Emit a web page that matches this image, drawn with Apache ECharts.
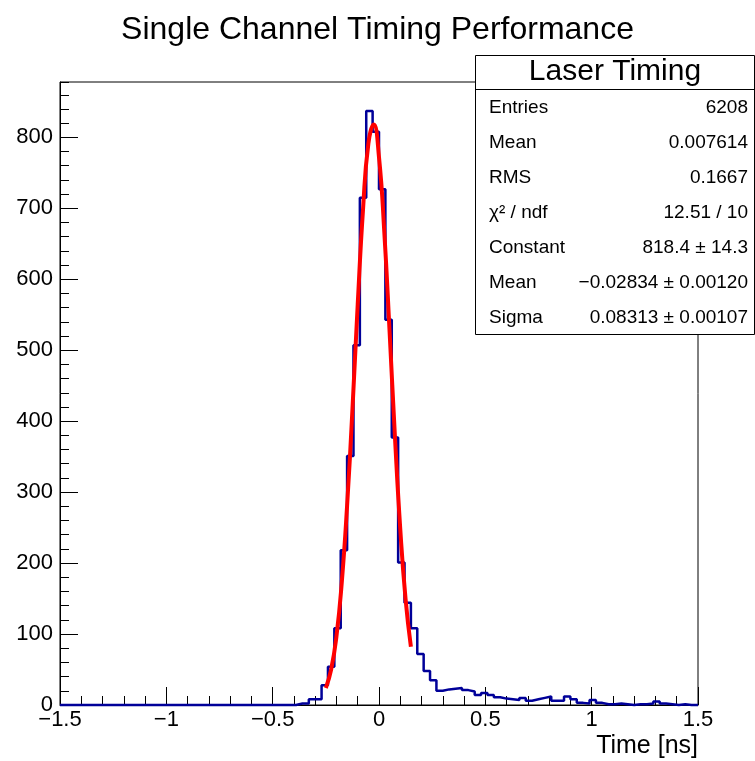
<!DOCTYPE html>
<html>
<head>
<meta charset="utf-8">
<script src="https://cdn.jsdelivr.net/npm/echarts@6/dist/echarts.min.js"></script>
<style>
  html, body { margin: 0; padding: 0; background: #fff; }
  #main { width: 755px; height: 761px; }
</style>
</head>
<body>
<div id="main"></div>
<script>
// histogram: 100 bins from -1.5 to 1.5 ns
var binLow = -1.5;
var binWidth = 0.03;
var counts = [
  0, 0, 0, 0, 0, 0, 0, 0, 0, 0,
  0, 0, 0, 0, 0, 0, 0, 0, 0, 0,
  0, 0, 0, 0, 0, 0, 0, 0, 0, 0,
  0, 0, 0, 0, 0, 0, 0, 2, 2, 8,
  8, 28, 54, 108, 218, 351, 507, 715, 837, 808,
  727, 543, 377, 201, 144, 108, 72, 48, 35, 20,
  22, 23, 24, 21, 19, 14, 17, 14, 11, 9,
  8, 7, 10, 6, 8, 10, 12, 6, 6, 12,
  8, 3, 2, 7, 3, 1, 1, 2, 1, 0,
  1, 1, 2, 5, 2, 1, 0, 1, 0, 0
];

// gaussian fit curve
var fitX = [-0.25, -0.225, -0.2, -0.175, -0.15, -0.125, -0.1, -0.075, -0.05, -0.025,
            0, 0.025, 0.05, 0.075, 0.1, 0.125, 0.15];
var fitY = [24, 50, 97, 173, 281, 416, 565, 699, 791, 818,
            772, 666, 525, 378, 248, 149, 82];

// stats box rows
var statNames = ['Entries', 'Mean', 'RMS', 'χ² / ndf', 'Constant', 'Mean', 'Sigma'];
var statValues = ['6208', '0.007614', '0.1667', '12.51 / 10', '818.4 ± 14.3',
                  '−0.02834 ± 0.00120', '0.08313 ± 0.00107'];

var yMajor = [0, 100, 200, 300, 400, 500, 600, 700, 800];
var yMax = 878;

var FONT = 'Liberation Sans';

var histData = [];
for (var i = 0; i < counts.length; i++) {
  histData.push([binLow + i * binWidth, counts[i]]);
}
histData.push([binLow + counts.length * binWidth, counts[counts.length - 1]]);

var fitData = [];
for (var j = 0; j < fitX.length; j++) {
  fitData.push([fitX[j], fitY[j]]);
}

function fmt(v) {
  var s = String(Math.round(v * 100) / 100);
  return s.charAt(0) === '-' ? '\u2212' + s.slice(1) : s;
}

// stats box graphics
var graphics = [
  { type: 'rect', shape: { x: 475.5, y: 55.5, width: 279, height: 279 },
    style: { fill: '#fff', stroke: '#000', lineWidth: 1 }, z: 10 },
  { type: 'line', shape: { x1: 475.5, y1: 89.5, x2: 754.5, y2: 89.5 },
    style: { stroke: '#000', lineWidth: 1 }, z: 11 },
  { type: 'text', x: 615, y: 72, z: 11,
    style: { text: 'Laser Timing', font: '30px "' + FONT + '"', fill: '#000',
             textAlign: 'center', textVerticalAlign: 'middle' } },
  { type: 'text', x: 698, y: 746, z: 11,
    style: { text: 'Time [ns]', font: '25px "' + FONT + '"', fill: '#000',
             textAlign: 'right', textVerticalAlign: 'middle' } }
];
for (var k = 0; k < statNames.length; k++) {
  var yy = 108 + k * 35;
  graphics.push({ type: 'text', x: 489, y: yy, z: 11,
    style: { text: statNames[k], font: '19px "' + FONT + '"', fill: '#000',
             textAlign: 'left', textVerticalAlign: 'middle' } });
  graphics.push({ type: 'text', x: 748, y: yy, z: 11,
    style: { text: statValues[k], font: '19px "' + FONT + '"', fill: '#000',
             textAlign: 'right', textVerticalAlign: 'middle' } });
}

var myChart = echarts.init(document.getElementById('main'));
myChart.setOption({
  animation: false,
  backgroundColor: '#fff',
  title: {
    text: 'Single Channel Timing Performance',
    left: 'center',
    top: 9,
    textStyle: { fontFamily: FONT, fontSize: 32, fontWeight: 'normal', color: '#000' }
  },
  grid: {
    left: 60, right: 57, top: 82, bottom: 56,
    show: true, borderColor: '#000', borderWidth: 1, backgroundColor: 'transparent'
  },
  xAxis: [{
    type: 'value', min: -1.5, max: 1.5, interval: 0.5,
    axisLine: { onZero: false, lineStyle: { color: '#000', width: 1 } },
    axisTick: { inside: true, length: 18, lineStyle: { color: '#000' } },
    minorTick: { show: true, splitNumber: 5, length: 9, lineStyle: { color: '#000' } },
    splitLine: { show: false },
    axisLabel: { fontFamily: FONT, fontSize: 22, color: '#000', margin: 4, formatter: fmt }
  }],
  yAxis: [{
    type: 'value', min: 0, max: yMax, interval: 100, position: 'left',
    axisLine: { show: true, onZero: false, lineStyle: { color: '#000', width: 1 } },
    axisTick: { inside: true, length: 18, customValues: yMajor, lineStyle: { color: '#000' } },
    splitLine: { show: false },
    axisLabel: { fontFamily: FONT, fontSize: 22, color: '#000', margin: 7,
                 customValues: yMajor }
  }, {
    type: 'value', min: 0, max: yMax, interval: 20, position: 'left', offset: 0,
    axisLine: { show: false, onZero: false },
    axisTick: { inside: true, length: 9, lineStyle: { color: '#000' } },
    splitLine: { show: false },
    axisLabel: { show: false }
  }],
  graphic: graphics,
  series: [{
    name: 'Laser Timing',
    type: 'line',
    step: 'end',
    data: histData,
    symbol: 'none',
    clip: false,
    lineStyle: { color: '#000099', width: 2.5 },
    z: 3
  }, {
    name: 'fit',
    type: 'line',
    smooth: true,
    data: fitData,
    symbol: 'none',
    clip: false,
    lineStyle: { color: '#ff0000', width: 4 },
    z: 4
  }]
});
</script>
</body>
</html>
